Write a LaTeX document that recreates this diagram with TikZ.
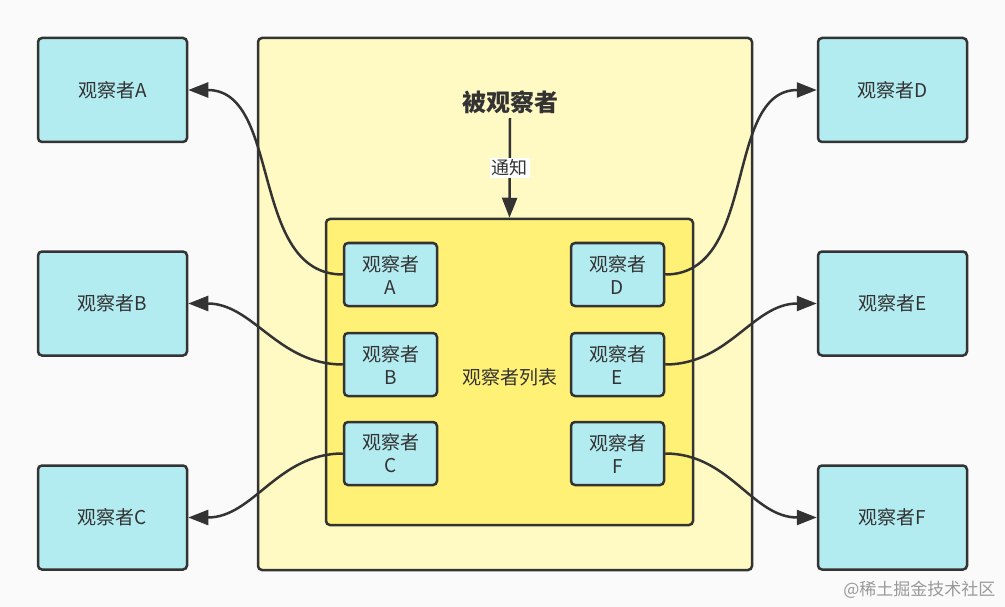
\documentclass[tikz,border=0pt]{standalone}
\usepackage{fontspec}
\setmainfont{Noto Sans CJK SC}
\usetikzlibrary{arrows.meta}
\definecolor{obscyan}{HTML}{B2EBF0}
\definecolor{subjyellow}{HTML}{FFF9C4}
\definecolor{listyellow}{HTML}{FFF176}
\definecolor{edgegray}{HTML}{333333}
\definecolor{bggray}{HTML}{FAFAFA}

\begin{document}
\begin{tikzpicture}[x=1pt, y=-1pt, line width=2.5pt]
      \tikzstyle{obsbox}=[draw=edgegray, fill=obscyan, rounded corners=4pt,
        text=edgegray, font=\fontsize{19}{23}\selectfont,
        minimum width=149pt, minimum height=104pt, inner sep=0pt]
      \tikzstyle{itembox}=[obsbox, minimum width=93pt, minimum height=63pt,
        align=center]
      \tikzstyle{notify}=[draw=edgegray, -{Triangle[length=20pt,width=15pt]}]
      % background and frame
      \fill[bggray] (0,0) rectangle (1005,607);
      \useasboundingbox (0,0) rectangle (1005,607);
      \draw[edgegray, fill=subjyellow, rounded corners=4pt] (258,38) rectangle (752,570);
      \node[draw=edgegray, fill=listyellow, rounded corners=4pt, minimum width=367pt,
        minimum height=306pt, inner sep=0pt] (list) at (509.5,372) {};
      \node[text=edgegray, font=\bfseries\fontsize{24}{28}\selectfont] (subject) at (510,102) {被观察者};
      \node[text=edgegray, font=\fontsize{19}{23}\selectfont] (listname) at (510,377) {观察者列表};
      % outer observers
      \node[obsbox] (oa) at (112.5,90) {观察者A};
      \node[obsbox] (ob) at (112.5,303.5) {观察者B};
      \node[obsbox] (oc) at (112.5,517.5) {观察者C};
      \node[obsbox] (od) at (892.5,90) {观察者D};
      \node[obsbox] (oe) at (892.5,303.5) {观察者E};
      \node[obsbox] (of) at (892.5,517.5) {观察者F};
      % registered observers
      \node[itembox] (sa) at (390.5,274.5) {观察者\\A};
      \node[itembox] (sb) at (390.5,364.5) {观察者\\B};
      \node[itembox] (sc) at (390.5,453.5) {观察者\\C};
      \node[itembox] (sd) at (617.5,274.5) {观察者\\D};
      \node[itembox] (se) at (617.5,364.5) {观察者\\E};
      \node[itembox] (sf) at (617.5,453.5) {观察者\\F};
      % notifications
      \draw[notify] (subject.south) -- (list.north)
        node[midway, fill=white, inner sep=2pt, text=edgegray,
          font=\fontsize{18}{22}\selectfont] (notifylabel) {通知};
      \path[every edge/.append style={notify}]
            (sa.west) edge[out=180, in=0] (oa.east)
            (sb.west) edge[out=180, in=0] (ob.east)
            (sc.west) edge[out=180, in=0] (oc.east)
            (sd.east) edge[out=0, in=180] (od.west)
            (se.east) edge[out=0, in=180] (oe.west)
            (sf.east) edge[out=0, in=180] (of.west);
      \node[text=black!40, font=\fontsize{17}{20}\selectfont, anchor=east] (mark) at (1000,590) {@稀土掘金技术社区};
    \end{tikzpicture}
\end{document}
